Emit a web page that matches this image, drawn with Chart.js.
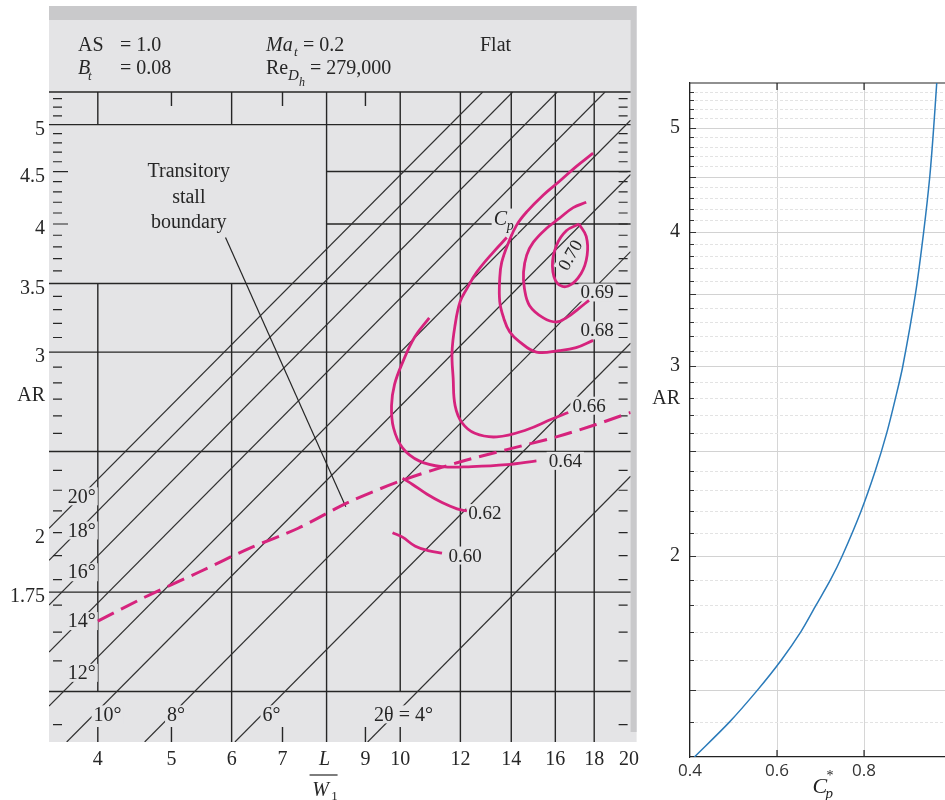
<!DOCTYPE html>
<html lang="en">
<head>
<meta charset="UTF-8">
<title>Flat-wall diffuser map and ideal recovery</title>
<script src="https://cdn.jsdelivr.net/npm/chart.js@4.4.1/dist/chart.umd.min.js"></script>
<style>
  html, body { margin: 0; padding: 0; background: #fff; overflow: hidden; }
  #map { position: absolute; left: 0; top: 0; }
  #ideal { position: absolute; left: 645px; top: 0; }
</style>
</head>
<body>
<canvas id="map" width="645" height="800"></canvas>
<canvas id="ideal" width="300" height="800"></canvas>
<script>
// ---------- left panel: AR vs L/W1, log-log ----------
const xTicksL = [4, 5, 6, 7, 9, 10, 12, 14, 16, 18, 20];
const yTicksL = [5, 4.5, 4, 3.5, 3, 2.75, 2, 1.75];
const yTickTextL = ['5', '4.5', '4', '3.5', '3', 'AR', '2', '1.75'];

// printed grid of the map
const hLines = [5.38, 5, 3.5, 3, 2.4, 1.75, 1.4];
const hShort = [4.5, 4];                      // these start at L/W1 = 8
const vLineX   = [4, 4, 6, 6, 8, 10, 12, 14, 16, 18];
const vLineTop = [5.38, 3.5, 5.38, 3.5, 5.38, 5.38, 5.38, 5.38, 5.38, 5.38];
const vLineBot = [5, 1.4, 5, 1.25, 1.25, 1.4, 1.25, 1.25, 1.25, 1.25];
const topTicks = [5, 7, 9];
const bottomTicks = [4, 5, 7, 9, 10];

// lines of constant divergence angle
const angleText   = ['20°', '18°', '16°', '14°', '12°', '10°', '8°', '6°', '2θ = 4°'];
const angleFromL  = [3.45, 3.45, 3.45, 3.45, 3.45, 3.64, 4.61, 6.06, 9.06];
const angleFromAR = [2.02, 1.88, 1.70, 1.53, 1.355, 1.25, 1.25, 1.25, 1.25];
const angleToL    = [12.84, 14.06, 16.09, 18.6, 20.1, 20.1, 20.1, 20.1, 20.1];
const angleToAR   = [5.38, 5.38, 5.38, 5.38, 5.05, 4.47, 3.76, 3.06, 2.27];
const angleLabL   = [3.81, 3.81, 3.81, 3.81, 3.81, 4.12, 5.07, 6.77, 10.1];
const angleLabAR  = [2.17, 2.01, 1.83, 1.64, 1.46, 1.33, 1.33, 1.33, 1.33];

// transitory stall boundary
const stallL  = [4.0, 4.61, 5.43, 6.32, 7.34, 8.53, 10.07, 11.88, 13.81, 16.05, 18.1, 20.1];
const stallAR = [1.64, 1.73, 1.83, 1.93, 2.02, 2.14, 2.25, 2.34, 2.41, 2.48, 2.55, 2.62];
const leaderL  = [5.89, 8.48];
const leaderAR = [3.88, 2.12];

// Cp contours
const cp60L  = [9.77, 10.07, 10.47, 10.92, 11.35];
const cp60AR = [2.00, 1.98, 1.94, 1.92, 1.91];
const cp62L  = [10.07, 10.37, 10.85, 11.35, 11.88, 12.24];
const cp62AR = [2.26, 2.23, 2.18, 2.14, 2.11, 2.10];
const cp64L  = [10.92, 10.44, 10.07, 9.83, 9.74, 9.80, 10.07, 10.59, 11.35, 12.43, 13.81, 15.11];
const cp64AR = [3.24, 3.10, 2.93, 2.79, 2.66, 2.53, 2.42, 2.35, 2.32, 2.32, 2.33, 2.35];
const cp66L  = [13.81, 13.28, 12.61, 12.24, 11.99, 11.81, 11.70, 11.74, 11.81, 12.06, 12.54, 13.40, 14.67, 15.81, 16.64];
const cp66AR = [3.88, 3.76, 3.59, 3.46, 3.36, 3.19, 3.00, 2.83, 2.66, 2.56, 2.50, 2.48, 2.52, 2.58, 2.62];
const cp68L  = [17.94, 17.04, 16.19, 15.43, 14.67, 14.23, 13.89, 13.60, 13.52, 13.52, 13.68, 13.93, 14.36, 15.11, 16.19, 17.04, 17.94];
const cp68AR = [4.69, 4.55, 4.40, 4.27, 4.11, 3.99, 3.84, 3.67, 3.54, 3.36, 3.24, 3.14, 3.07, 3.00, 3.01, 3.03, 3.08];
const cp69L  = [17.57, 16.89, 16.19, 15.57, 14.97, 14.67, 14.53, 14.57, 14.80, 15.43, 16.05, 16.54, 17.19, 17.72];
const cp69AR = [4.20, 4.15, 4.05, 3.96, 3.84, 3.73, 3.59, 3.46, 3.33, 3.24, 3.21, 3.24, 3.31, 3.37];
const cp70L  = [17.19, 17.57, 17.62, 17.30, 16.64, 16.10, 15.86, 16.05, 16.54, 17.19];
const cp70AR = [4.00, 3.89, 3.73, 3.58, 3.48, 3.50, 3.64, 3.81, 3.94, 4.00];

const cpText  = ['0.60', '0.62', '0.64', '0.66', '0.68', '0.69'];
const cpLabL  = [12.17, 12.92, 16.49, 17.72, 18.16, 18.16];
const cpLabAR = [1.90, 2.09, 2.35, 2.66, 3.15, 3.43];

// ---------- right panel: ideal recovery ----------
const xTicksR = [0.4, 0.6, 0.8];
const yTicksR = [5, 4, 3, 2.8, 2];
const yTickTextR = ['5', '4', '3', 'AR', '2'];
const idealAR = [1.3, 1.4, 1.5, 1.6, 1.7, 1.8, 1.9, 2.0, 2.2, 2.4, 2.6, 2.8, 3.0, 3.5, 4.0, 4.5, 5.0, 5.5];
const idealCp = [0.41, 0.49, 0.555, 0.61, 0.655, 0.69, 0.723, 0.75, 0.793, 0.826, 0.852, 0.872, 0.889, 0.918, 0.937, 0.951, 0.96, 0.967];

const SERIF = '"Liberation Serif", "Times New Roman", serif';
const SANS = '"Open Sans", "Liberation Sans", sans-serif';
const INK = '#262626';
const MAGENTA = '#d6237d';
const PANEL = '#e4e4e6';
const PANEL_DARK = '#c9c9cb';

function pts(xs, ys) { return xs.map((x, i) => ({ x: x, y: ys[i] })); }
function curve(xs, ys, color, width, extra) {
  return Object.assign({
    data: pts(xs, ys), showLine: true, borderColor: color, borderWidth: width,
    pointRadius: 0, fill: false, tension: 0
  }, extra || {});
}

function boxedText(ctx, text, x, y, font, angle) {
  ctx.save();
  ctx.translate(x, y);
  if (angle) ctx.rotate(angle);
  ctx.font = font;
  const w = ctx.measureText(text).width;
  ctx.fillStyle = PANEL;
  ctx.fillRect(-w / 2 - 2, -9, w + 4, 18);
  ctx.fillStyle = INK;
  ctx.textAlign = 'center';
  ctx.textBaseline = 'middle';
  ctx.fillText(text, 0, 1);
  ctx.restore();
}

const LABEL_LAYER = 8;   // labels go under the leader, stall line and contours

const mapDecor = {
  id: 'mapDecor',
  beforeDraw(chart) {
    const { ctx, chartArea: a } = chart;
    ctx.save();
    ctx.fillStyle = PANEL;
    ctx.fillRect(a.left, 6, a.right + 6 - a.left, a.bottom - 6);
    ctx.fillStyle = PANEL_DARK;
    ctx.fillRect(a.left, 6, a.right + 6 - a.left, 14);
    ctx.fillRect(a.right, 20, 6, a.bottom - 30);

    ctx.fillStyle = INK;
    ctx.textBaseline = 'middle';
    ctx.font = '20px ' + SERIF;
    ctx.fillText('AS', 78, 46);
    ctx.fillText('= 1.0', 120, 46);
    ctx.fillText('= 0.08', 120, 69);
    ctx.fillText('= 0.2', 303, 46);
    ctx.fillText('Re', 266, 69);
    ctx.fillText('= 279,000', 310, 69);
    ctx.fillText('Flat', 480, 46);
    ctx.font = 'italic 20px ' + SERIF;
    ctx.fillText('B', 78, 69);
    ctx.fillText('Ma', 266, 46);
    ctx.font = 'italic 13px ' + SERIF;
    ctx.fillText('t', 88, 77);
    ctx.fillText('t', 294, 53);
    ctx.font = 'italic 15px ' + SERIF;
    ctx.fillText('D', 288, 76);
    ctx.font = 'italic 12px ' + SERIF;
    ctx.fillText('h', 299, 83);
    ctx.restore();
  },
  beforeDatasetsDraw(chart) {
    const { ctx, chartArea: a, scales: { x, y } } = chart;
    ctx.save();
    ctx.strokeStyle = INK;
    ctx.lineWidth = 1.4;
    ctx.beginPath();
    hLines.forEach(v => {
      const py = y.getPixelForValue(v);
      ctx.moveTo(a.left, py); ctx.lineTo(a.right, py);
    });
    hShort.forEach(v => {
      const py = y.getPixelForValue(v);
      ctx.moveTo(x.getPixelForValue(8), py); ctx.lineTo(a.right, py);
    });
    vLineX.forEach((v, i) => {
      const px = x.getPixelForValue(v);
      ctx.moveTo(px, y.getPixelForValue(vLineTop[i]));
      ctx.lineTo(px, y.getPixelForValue(vLineBot[i]));
    });
    topTicks.forEach(v => {
      const px = x.getPixelForValue(v);
      ctx.moveTo(px, a.top); ctx.lineTo(px, a.top + 14);
    });
    bottomTicks.forEach(v => {
      const px = x.getPixelForValue(v);
      ctx.moveTo(px, a.bottom); ctx.lineTo(px, a.bottom - 15);
    });
    ctx.stroke();

    // small AR ticks along both edges
    ctx.lineWidth = 1.2;
    ctx.beginPath();
    for (let k = 13; k <= 53; k++) {
      const v = k / 10;
      if (hLines.some(h => Math.abs(h - v) < 0.01)) continue;
      const py = y.getPixelForValue(v);
      const len = (k === 45 || k === 40) ? 15 : 9;
      ctx.moveTo(a.left + 4, py); ctx.lineTo(a.left + 4 + len, py);
      ctx.moveTo(a.right - 3, py); ctx.lineTo(a.right - 12, py);
    }
    ctx.stroke();
    ctx.restore();
  },
  beforeDatasetDraw(chart, args) {
    if (args.index !== LABEL_LAYER) return;
    const { ctx, scales: { x, y } } = chart;
    angleText.forEach((t, i) => boxedText(ctx, t, x.getPixelForValue(angleLabL[i]),
      y.getPixelForValue(angleLabAR[i]), '20px ' + SERIF));
    cpText.forEach((t, i) => boxedText(ctx, t, x.getPixelForValue(cpLabL[i]),
      y.getPixelForValue(cpLabAR[i]), '19px ' + SERIF));
    boxedText(ctx, '0.70', x.getPixelForValue(16.74), y.getPixelForValue(3.73), '18px ' + SERIF, -1.05);

    // C_p label
    const cx = x.getPixelForValue(13.68), cy = y.getPixelForValue(4.04);
    ctx.save();
    ctx.fillStyle = PANEL;
    ctx.fillRect(cx - 12, cy - 11, 26, 26);
    ctx.fillStyle = INK;
    ctx.textBaseline = 'middle';
    ctx.font = 'italic 20px ' + SERIF;
    ctx.fillText('C', cx - 10, cy);
    ctx.font = 'italic 14px ' + SERIF;
    ctx.fillText('p', cx + 3, cy + 7);

    ctx.font = '20px ' + SERIF;
    ctx.textAlign = 'center';
    const tx = x.getPixelForValue(5.27);
    ctx.fillText('Transitory', tx, y.getPixelForValue(4.50));
    ctx.fillText('stall', tx, y.getPixelForValue(4.24));
    ctx.fillText('boundary', tx, y.getPixelForValue(4.01));
    ctx.restore();
  },
  afterDraw(chart) {
    const { ctx, chartArea: a, scales: { x } } = chart;
    const cx = x.getPixelForValue(8) - 3;
    ctx.save();
    ctx.fillStyle = INK;
    ctx.strokeStyle = INK;
    ctx.textAlign = 'center';
    ctx.textBaseline = 'middle';
    ctx.font = 'italic 20px ' + SERIF;
    ctx.fillText('L', cx + 1, a.bottom + 18);
    ctx.fillText('W', cx - 3, a.bottom + 49);
    ctx.font = '13px ' + SERIF;
    ctx.fillText('1', cx + 11, a.bottom + 55);
    ctx.lineWidth = 1.2;
    ctx.beginPath();
    ctx.moveTo(cx - 14, a.bottom + 33); ctx.lineTo(cx + 14, a.bottom + 33);
    ctx.stroke();
    ctx.restore();
  }
};

const mapSets = [
  curve(cp60L, cp60AR, MAGENTA, 2.8, { tension: 0.4 }),
  curve(cp62L, cp62AR, MAGENTA, 2.8, { tension: 0.4 }),
  curve(cp64L, cp64AR, MAGENTA, 2.8, { tension: 0.4 }),
  curve(cp66L, cp66AR, MAGENTA, 2.8, { tension: 0.4 }),
  curve(cp68L, cp68AR, MAGENTA, 2.8, { tension: 0.4 }),
  curve(cp69L, cp69AR, MAGENTA, 2.8, { tension: 0.4 }),
  curve(cp70L, cp70AR, MAGENTA, 2.8, { tension: 0.4 }),
  curve(stallL, stallAR, MAGENTA, 3, { tension: 0.3, borderDash: [18, 8] }),
  curve(leaderL, leaderAR, INK, 1.2)
].concat(angleFromL.map((x0, i) =>
  curve([x0, angleToL[i]], [angleFromAR[i], angleToAR[i]], '#303030', 1.2)));

new Chart(document.getElementById('map'), {
  type: 'scatter',
  data: { datasets: mapSets },
  options: {
    responsive: false,
    devicePixelRatio: 1,
    animation: false,
    events: [],
    layout: { padding: { top: 92, right: 10, left: 0, bottom: 0 } },
    plugins: { legend: { display: false }, tooltip: { enabled: false } },
    scales: {
      x: {
        type: 'logarithmic', min: 3.45, max: 20.1,
        afterBuildTicks: s => { s.ticks = xTicksL.map(v => ({ value: v })); },
        afterFit: s => { s.height = 58; },
        grid: { display: false, drawTicks: false },
        border: { display: false },
        ticks: {
          autoSkip: false, maxRotation: 0, padding: 6, color: INK,
          font: { family: SERIF, size: 20 },
          callback: v => String(v)
        }
      },
      y: {
        type: 'logarithmic', min: 1.25, max: 5.38,
        afterBuildTicks: s => { s.ticks = yTicksL.map(v => ({ value: v })); },
        afterFit: s => { s.width = 49; },
        grid: { display: false, drawTicks: false },
        border: { display: false },
        ticks: {
          autoSkip: false, padding: 4, labelOffset: 5, color: INK,
          font: { family: SERIF, size: 20 },
          callback: (v, i) => yTickTextL[i]
        }
      }
    }
  },
  plugins: [mapDecor]
});

const idealDecor = {
  id: 'idealDecor',
  beforeDatasetsDraw(chart) {
    const { ctx, chartArea: a, scales: { x, y } } = chart;
    ctx.save();
    ctx.lineWidth = 1;
    for (let k = 14; k <= 54; k++) {
      const major = k % 5 === 0;
      const py = Math.round(y.getPixelForValue(k / 10)) + 0.5;
      ctx.strokeStyle = major ? '#d2d2d2' : '#e3e3e3';
      ctx.setLineDash(major ? [] : [3, 2]);
      ctx.beginPath(); ctx.moveTo(a.left, py); ctx.lineTo(a.right, py); ctx.stroke();
      ctx.setLineDash([]);
      ctx.strokeStyle = '#333';
      ctx.beginPath(); ctx.moveTo(a.left, py); ctx.lineTo(a.left + (major ? 6 : 4), py); ctx.stroke();
    }
    ctx.strokeStyle = '#222';
    ctx.lineWidth = 1.2;
    ctx.beginPath();
    ctx.moveTo(a.left, a.top); ctx.lineTo(a.right, a.top);
    xTicksR.slice(1).forEach(v => {
      const px = x.getPixelForValue(v);
      ctx.moveTo(px, a.bottom); ctx.lineTo(px, a.bottom - 7);
      ctx.moveTo(px, a.top); ctx.lineTo(px, a.top + 7);
    });
    ctx.stroke();
    ctx.restore();
  },
  afterDraw(chart) {
    const { ctx, chartArea: a, scales: { x } } = chart;
    const cx = x.getPixelForValue(0.7);
    ctx.save();
    ctx.fillStyle = '#222';
    ctx.textBaseline = 'middle';
    ctx.font = 'italic 22px ' + SERIF;
    ctx.fillText('C', cx - 8, a.bottom + 30);
    ctx.font = 'italic 15px ' + SERIF;
    ctx.fillText('p', cx + 5, a.bottom + 37);
    ctx.font = '14px ' + SERIF;
    ctx.fillText('*', cx + 6, a.bottom + 19);
    ctx.restore();
  }
};

new Chart(document.getElementById('ideal'), {
  type: 'scatter',
  data: {
    datasets: [curve(idealCp, idealAR, '#2b7bba', 1.5, { tension: 0.3 })]
  },
  options: {
    responsive: false,
    devicePixelRatio: 1,
    animation: false,
    events: [],
    layout: { padding: { top: 83, right: 0, left: 0, bottom: 0 } },
    plugins: { legend: { display: false }, tooltip: { enabled: false } },
    scales: {
      x: {
        type: 'linear', min: 0.4, max: 0.986,
        afterBuildTicks: s => { s.ticks = xTicksR.map(v => ({ value: v })); },
        afterFit: s => { s.height = 43; },
        grid: { color: '#d6d6d6', drawTicks: false },
        border: { color: '#222', width: 1.2 },
        ticks: {
          autoSkip: false, maxRotation: 0, padding: 4, color: '#333',
          font: { family: SANS, size: 17 },
          callback: v => v.toFixed(1)
        }
      },
      y: {
        type: 'logarithmic', min: 1.3, max: 5.5,
        afterBuildTicks: s => { s.ticks = yTicksR.map(v => ({ value: v })); },
        afterFit: s => { s.width = 45; },
        grid: { display: false, drawTicks: false },
        border: { color: '#222', width: 1.2 },
        ticks: {
          autoSkip: false, padding: 10, color: INK,
          font: { family: SERIF, size: 20 },
          callback: (v, i) => yTickTextR[i]
        }
      }
    }
  },
  plugins: [idealDecor]
});
</script>
</body>
</html>
